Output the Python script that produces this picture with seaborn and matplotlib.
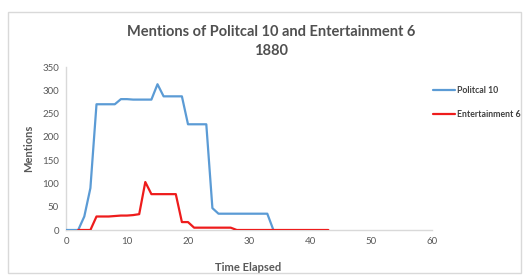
import matplotlib
matplotlib.use("Agg")
import matplotlib.pyplot as plt
import seaborn as sns
import pandas as pd
from matplotlib.patches import Rectangle

# Data
time_political = list(range(0, 35))
political = [0, 0, 0, 29, 90, 270, 270, 270, 270, 281, 281, 280, 280, 280, 280, 313, 287, 287, 287, 287,
             227, 227, 227, 227, 47, 35, 35, 35, 35, 35, 35, 35, 35, 35, 0]
time_entertainment = list(range(2, 44))
entertainment = [0, 0, 0, 29, 29, 29, 30, 31, 31, 32, 34, 103, 77, 77, 77, 77, 77, 17, 17, 5,
                 5, 5, 5, 5, 5, 5, 0, 0, 0, 0, 0, 0, 0, 0, 0, 0, 0, 0, 0, 0, 0, 0]
series_names = ["Politcal 10", "Entertainment 6"]
x_ticks = [0, 10, 20, 30, 40, 50, 60]
y_ticks = [0, 50, 100, 150, 200, 250, 300, 350]

df = pd.concat([
    pd.DataFrame({"Time Elapsed": time_political, "Mentions": political, "series": series_names[0]}),
    pd.DataFrame({"Time Elapsed": time_entertainment, "Mentions": entertainment, "series": series_names[1]}),
])

sns.set_theme(style="white")
plt.rcParams["font.family"] = ["Lato", "DejaVu Sans"]
text_color = "#595959"

fig = plt.figure(figsize=(5.29, 2.76), dpi=100)
ax = fig.add_axes([66 / 529, 1 - 230 / 276, (432 - 66) / 529, (230 - 67) / 276])

sns.lineplot(data=df, x="Time Elapsed", y="Mentions", hue="series",
             palette={series_names[0]: "#5B9BD5", series_names[1]: "#EE1C1C"},
             linewidth=1.6, ax=ax, legend=False, zorder=3)

ax.set_xlim(0, 60)
ax.set_ylim(0, 350)
ax.set_xticks(x_ticks)
ax.set_yticks(y_ticks)
ax.tick_params(axis="both", labelsize=7, colors=text_color, length=0, pad=5)
for s in ["top", "right"]:
    ax.spines[s].set_visible(False)
for s in ["left", "bottom"]:
    ax.spines[s].set_color("#D9D9D9")
    ax.spines[s].set_linewidth(1.0)
ax.set_xlabel("Time Elapsed", fontsize=8, fontweight="bold", color=text_color)
ax.set_ylabel("Mentions", fontsize=8, fontweight="bold", color=text_color, labelpad=6)
ax.xaxis.set_label_coords((248 - 66) / 366, -0.195)

fig.text(271 / 529, 1 - 32 / 276, "Mentions of Politcal 10 and Entertainment 6", ha="center", va="center",
         fontsize=10.5, fontweight="bold", color="#505050")
fig.text(271 / 529, 1 - 51 / 276, "1880", ha="center", va="center",
         fontsize=10.5, fontweight="bold", color="#505050")

# Legend
handles = [plt.Line2D([], [], color="#5B9BD5", lw=1.6), plt.Line2D([], [], color="#EE1C1C", lw=1.6)]
fig.legend(handles, series_names, loc="upper left", bbox_to_anchor=(433 / 529, 1 - 86 / 276),
           frameon=False, handlelength=2.5, handletextpad=0.25, labelspacing=1.75,
           borderpad=0, borderaxespad=0,
           labelcolor="#404040", prop={"weight": "bold", "size": 6.3})

# outer frame
fig.patches.append(Rectangle((8 / 529, 3 / 276), (521 - 8) / 529, 261 / 276, transform=fig.transFigure,
                             fill=False, edgecolor="#D9D9D9", linewidth=1.0))

fig.savefig("out.png", dpi=100)
